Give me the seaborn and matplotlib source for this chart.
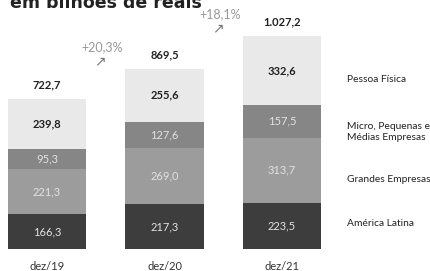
import numpy as np
import pandas as pd
import matplotlib
matplotlib.use("Agg")
import matplotlib.pyplot as plt
import seaborn as sns

periods = ["dez/19", "dez/20", "dez/21"]
segments = ["América Latina", "Grandes Empresas", "Micro, Pequenas e\nMédias Empresas", "Pessoa Física"]
america = [166.3, 217.3, 223.5]
grandes = [221.3, 269.0, 313.7]
micro = [95.3, 127.6, 157.5]
pessoa = [239.8, 255.6, 332.6]
totals = ["722,7", "869,5", "1.027,2"]
growth = ["+20,3%", "+18,1%"]
colors = ["#3d3d3d", "#9c9c9c", "#868686", "#e9e9e9"]

sns.set_style("white")
plt.rcParams["font.family"] = ["Lato", "DejaVu Sans"]

fig = plt.figure(figsize=(4.31, 2.71), dpi=100)
ax = fig.add_axes([0, 0, 1, 1])

layers = [america, grandes, micro, pessoa]
cum = np.cumsum(np.array(layers), axis=0)
# paint from tallest stack down so each layer covers the one above
for i in range(len(layers) - 1, -1, -1):
    df = pd.DataFrame({"period": periods, "value": cum[i]})
    sns.barplot(data=df, x="period", y="value", color=colors[i], saturation=1,
                width=0.664, linewidth=0, ax=ax)

ax.set_xlim(-0.4, 3.268)
ax.set_ylim(-106, 1200)
ax.axis("off")

# values inside segments
for i, vals in enumerate(layers):
    base = cum[i] - np.array(vals)
    for j, v in enumerate(vals):
        txt = f"{v:.1f}".replace(".", ",")
        if i == 3:
            ax.text(j, base[j] + v / 2, txt, ha="center", va="center",
                    fontsize=8, fontweight="bold", color="#222222")
        else:
            ax.text(j, base[j] + v / 2, txt, ha="center", va="center",
                    fontsize=8, color="#e2e2e2")

# totals above bars
for j, t in enumerate(totals):
    ax.text(j, cum[-1][j] + 40, t, ha="center", va="bottom",
            fontsize=8, fontweight="bold", color="#222222")

# growth annotations
for k, g in enumerate(growth):
    ax.text(k + 0.47, cum[-1][k + 1] + 105, g, ha="center", va="center",
            fontsize=9, color="#999999")
    ax.text(k + 0.45, cum[-1][k + 1] + 34, "\u2197", ha="center", va="center",
            fontsize=10, color="#777777", family="DejaVu Sans")

# period labels under bars
for j, p in enumerate(periods):
    ax.text(j, -82, p, ha="center", va="center", fontsize=8, color="#333333")

# segment labels on the right
label_y = [224, 179, 132, 79]
for name, py in zip(segments, label_y):
    fig.text(347 / 431, 1 - py / 271, name, ha="left", va="center",
             fontsize=7.4, color="#222222", linespacing=1.15)

fig.text(10 / 431, 1 - 8 / 271, "em bilhões de reais", ha="left", va="baseline",
         fontsize=12.5, fontweight="bold", color="#222222", family="DejaVu Sans")

fig.savefig("out.png", dpi=100)
